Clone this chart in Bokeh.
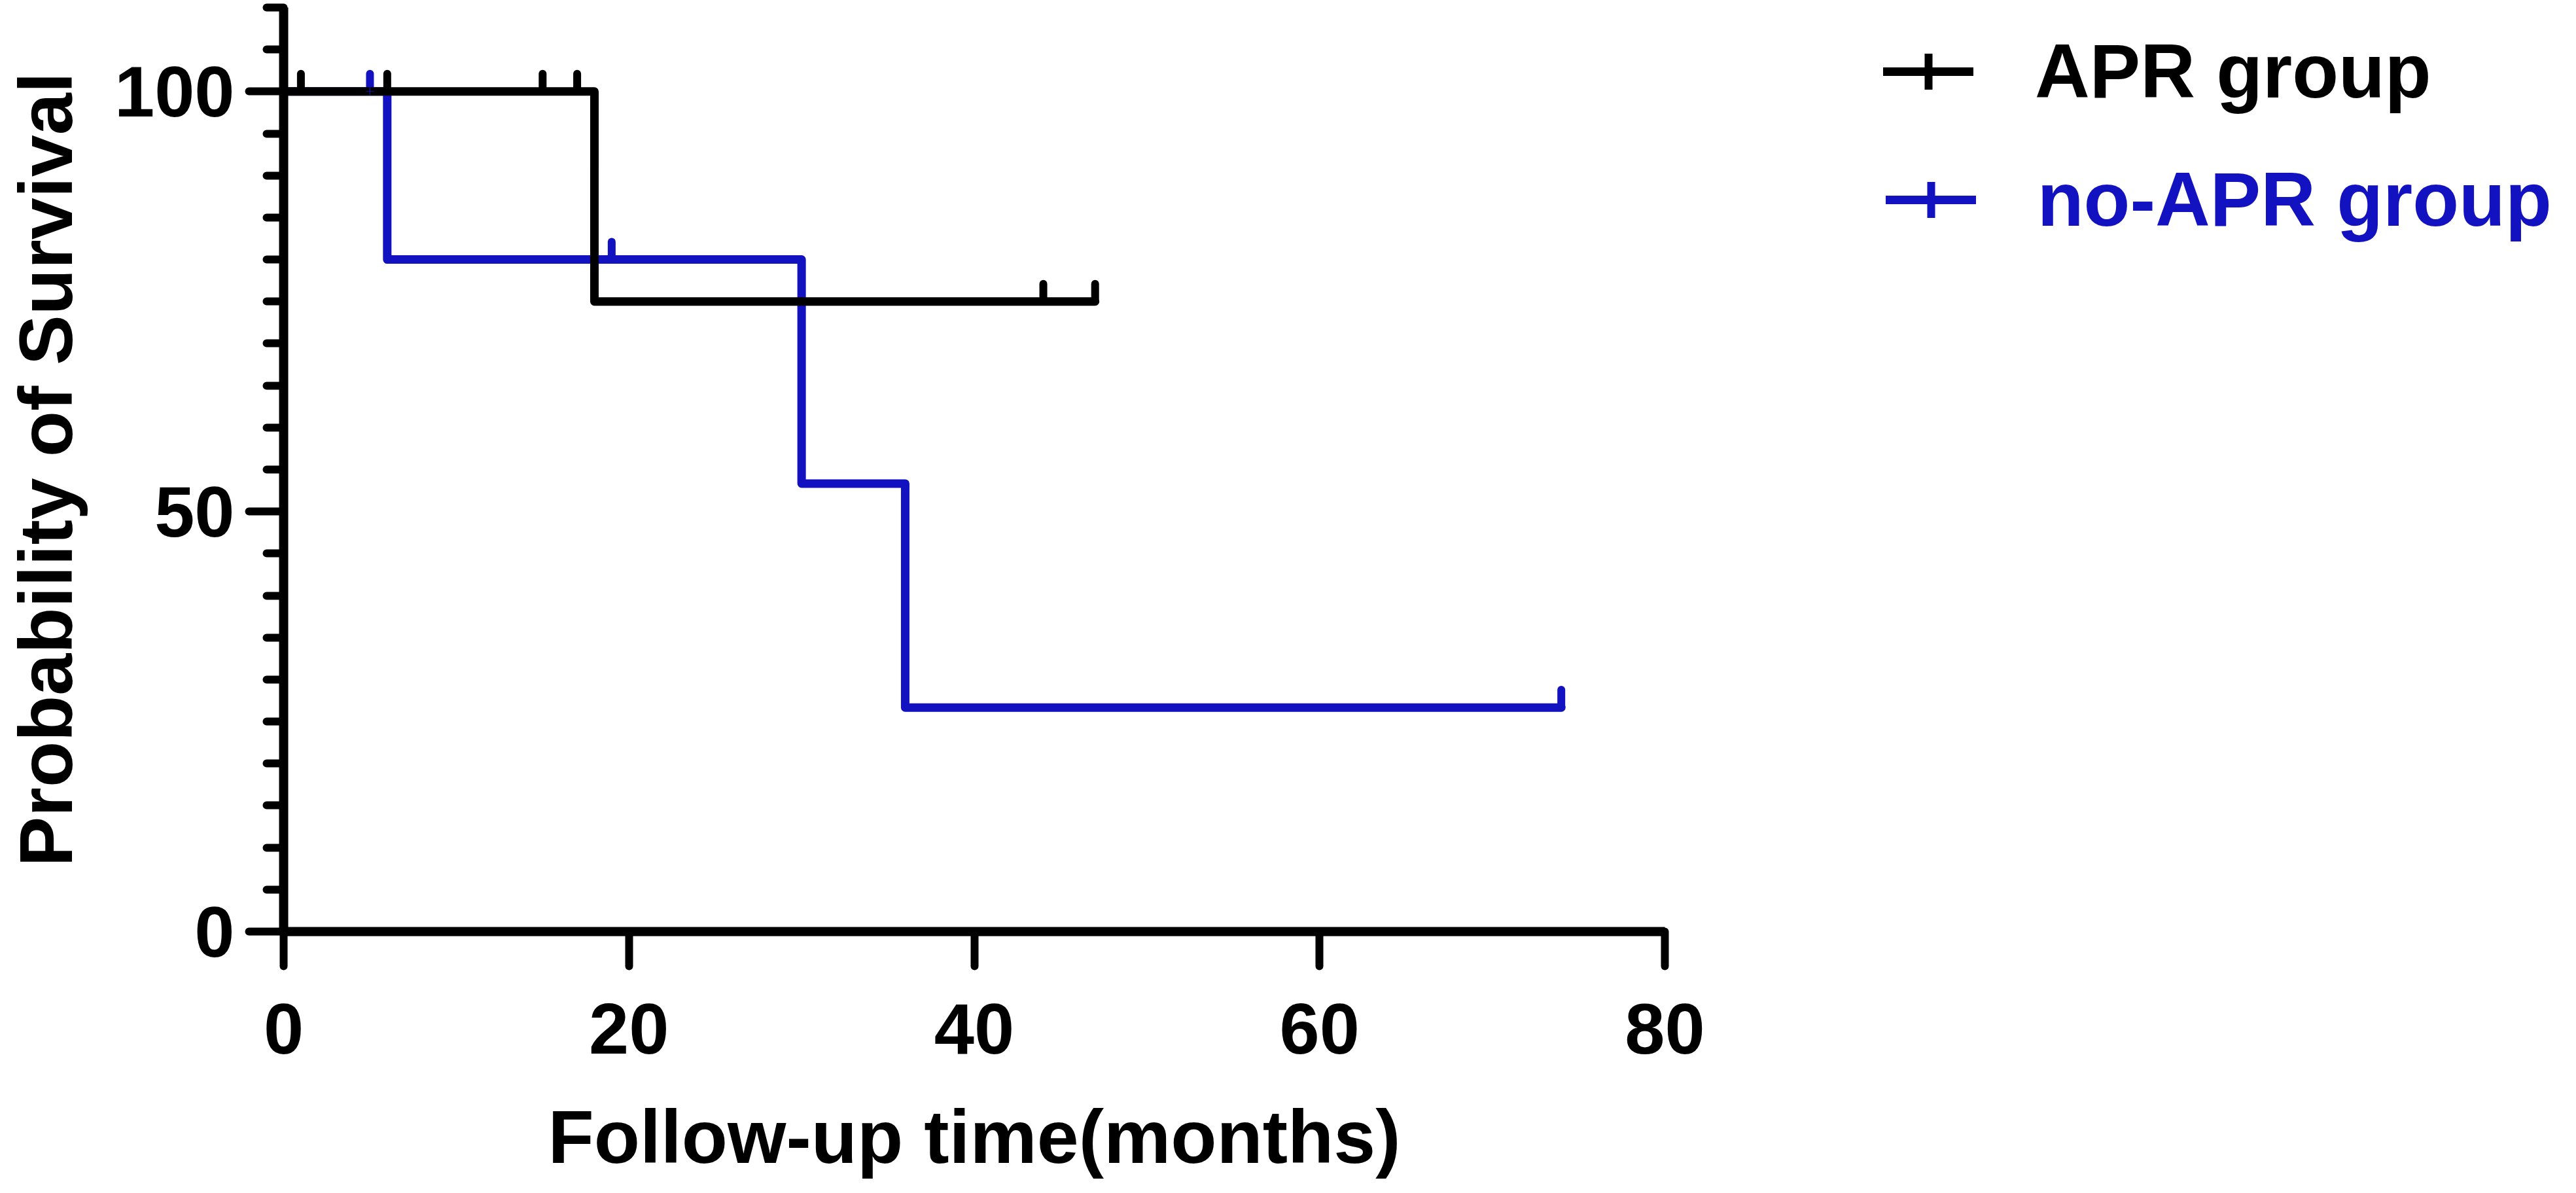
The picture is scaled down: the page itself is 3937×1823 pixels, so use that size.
import math
from bokeh.plotting import figure
from bokeh.models import Range1d, FixedTicker, Legend, LegendItem
from bokeh.embed import file_html
from bokeh.resources import INLINE

# ---- data ----
apr_time = [0, 18, 47]
apr_surv = [100, 75, 75]
apr_cens_time = [1, 6, 15, 17, 44, 47]
apr_cens_surv = [100, 100, 100, 100, 75, 75]

noapr_time = [0, 6, 30, 36, 74]
noapr_surv = [100, 80, 53.33, 26.67, 26.67]
noapr_cens_time = [5, 19, 74]
noapr_cens_surv = [100, 80, 26.67]

x_ticks = [0, 20, 40, 60, 80]
y_ticks = [0, 50, 100]
y_minor = [5, 10, 15, 20, 25, 30, 35, 40, 45, 55, 60, 65, 70, 75, 80, 85, 90, 95, 105, 110]
x_axis_end = 80
y_axis_end = 110

labels = ["APR group", "no-APR group"]
x_title = "Follow-up time(months)"
y_title = "Probability of Survival"

BLACK = "#000000"
BLUE = "#1212C0"
FONT = "Liberation Sans"
LW = 13
TICK_OFF = 1.1  # censor tick centre above the curve, in survival units

W, H = 3921, 1807
FRAME_LEFT = 433
FRAME_RIGHT = 2544
FRAME_TOP = 11
FRAME_BOTTOM = 1423

p = figure(width=W, height=H, output_backend="svg", toolbar_location=None,
           x_range=Range1d(0, x_axis_end), y_range=Range1d(0, y_axis_end),
           min_border_left=FRAME_LEFT, min_border_right=W - FRAME_RIGHT,
           min_border_top=FRAME_TOP, min_border_bottom=H - FRAME_BOTTOM)
p.outline_line_color = None
p.xgrid.visible = False
p.ygrid.visible = False

# curves: blue first, black on top
rb = p.step(noapr_time, noapr_surv, mode="after", line_color=BLUE, line_width=LW,
            line_join="round", line_cap="round")
cb = p.scatter(noapr_cens_time, [s + TICK_OFF for s in noapr_cens_surv],
               marker="dash", angle=math.pi / 2, size=26, line_color=BLUE,
               line_width=12, line_cap="round")
rk = p.step(apr_time, apr_surv, mode="after", line_color=BLACK, line_width=LW,
            line_join="round", line_cap="round")
ck = p.scatter(apr_cens_time, [s + TICK_OFF for s in apr_cens_surv],
               marker="dash", angle=math.pi / 2, size=26, line_color=BLACK,
               line_width=12, line_cap="round")
# tick symbols for the legend (hidden under the curves in the plot itself)
lb = p.scatter(noapr_cens_time, noapr_cens_surv, marker="cross", size=1,
               line_color=BLUE, line_width=12, line_cap="butt")
lk = p.scatter(apr_cens_time, apr_cens_surv, marker="cross", size=1,
               line_color=BLACK, line_width=12, line_cap="butt")

for ax in (p.xaxis[0], p.yaxis[0]):
    ax.axis_line_width = 14
    ax.axis_line_color = BLACK
    ax.major_tick_line_width = 12
    ax.major_tick_line_color = BLACK
    ax.major_tick_line_cap = "round"
    ax.major_tick_out = 53
    ax.major_tick_in = 0
    ax.major_label_text_font = FONT
    ax.major_label_text_font_style = "bold"
    ax.major_label_text_font_size = "110px"
    ax.major_label_text_color = BLACK
    ax.axis_label_text_font = FONT
    ax.axis_label_text_font_style = "bold"
    ax.axis_label_text_font_size = "115px"
    ax.axis_label_text_color = BLACK

p.xaxis.ticker = FixedTicker(ticks=x_ticks)
p.xaxis.minor_tick_line_color = None
p.xaxis.major_label_standoff = 57
p.xaxis.axis_label = x_title
p.xaxis.axis_label_standoff = 60

p.yaxis.ticker = FixedTicker(ticks=y_ticks, minor_ticks=y_minor)
p.yaxis.minor_tick_out = 26
p.yaxis.minor_tick_in = 0
p.yaxis.minor_tick_line_width = 12
p.yaxis.minor_tick_line_color = BLACK
p.yaxis.minor_tick_line_cap = "round"
p.yaxis.major_label_standoff = 22
p.yaxis.axis_label = y_title
p.yaxis.axis_label_standoff = 38


# legends sit in the right-hand border; the negative margin keeps them from
# widening that border (and so from squeezing the plot area)
def make_legend(label, renderers, color, vx, vy, margin):
    lg = Legend(items=[LegendItem(label=label, renderers=renderers)],
                location=(vx, vy), orientation="vertical",
                label_text_font=FONT, label_text_font_style="bold",
                label_text_font_size="116px", label_text_color=color,
                glyph_width=138, glyph_height=140, label_height=140,
                label_standoff=94, padding=0, margin=margin, spacing=0,
                border_line_color=None, background_fill_alpha=0)
    p.add_layout(lg, "right")


make_legend(labels[0], [rk, lk], BLACK, 334, 1244, -410)
make_legend(labels[1], [rb, lb], BLUE, -500, 1048, -500)

open("out.html", "w").write(file_html(p, INLINE))
